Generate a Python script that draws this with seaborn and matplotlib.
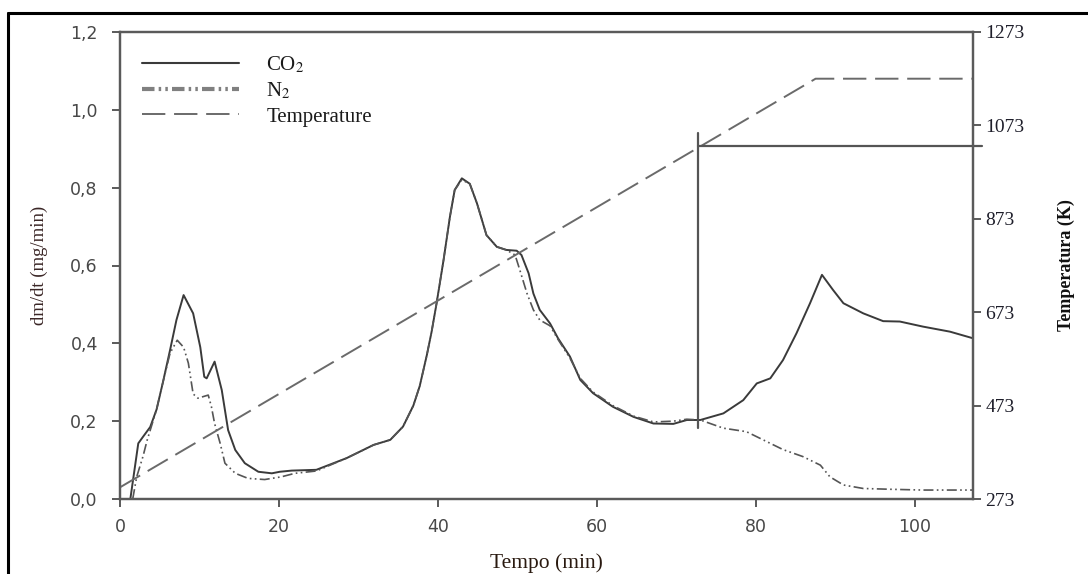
import matplotlib
matplotlib.use("Agg")
import matplotlib.pyplot as plt
from matplotlib.lines import Line2D
import seaborn as sns

# ---------------- data ----------------
co2_time = [1.3, 2.3, 2.9, 3.8, 4.6, 5.4, 6.3, 7.1, 8.0, 9.2, 10.1, 10.6, 10.9, 11.9, 12.8,
            13.6, 14.5, 15.7, 17.4, 19.1, 20.1, 21.6, 24.7, 28.5, 31.9, 34.0, 35.6, 36.9,
            37.7, 38.6, 39.2, 39.8, 40.7, 41.5, 42.1, 43.0, 44.0, 44.9, 46.1, 47.4, 48.6,
            49.9, 50.5, 51.4, 52.0, 52.8, 54.1, 55.1, 56.6, 57.9, 59.5, 62.0, 64.6, 67.1,
            69.6, 71.3, 73.0, 75.9, 78.4, 80.1, 81.8, 83.4, 85.1, 86.8, 88.3, 89.7, 91.0,
            93.5, 96.0, 98.1, 101.0, 104.4, 107.3]
co2_rate = [0.0, 0.143, 0.16, 0.185, 0.23, 0.30, 0.383, 0.46, 0.524, 0.477, 0.39, 0.314,
            0.31, 0.353, 0.28, 0.177, 0.126, 0.092, 0.07, 0.066, 0.07, 0.073, 0.075, 0.105,
            0.139, 0.152, 0.186, 0.24, 0.29, 0.37, 0.43, 0.50, 0.614, 0.725, 0.794, 0.824,
            0.81, 0.76, 0.678, 0.648, 0.64, 0.638, 0.627, 0.58, 0.528, 0.486, 0.451, 0.413,
            0.366, 0.306, 0.272, 0.237, 0.211, 0.194, 0.193, 0.203, 0.203, 0.22, 0.254,
            0.297, 0.31, 0.357, 0.426, 0.503, 0.576, 0.537, 0.503, 0.477, 0.457, 0.456,
            0.443, 0.43, 0.413]

n2_time = [1.6, 2.1, 2.9, 3.4, 4.6, 5.4, 6.3, 7.2, 8.0, 8.6, 9.2, 9.8, 11.1, 11.5, 11.9,
           12.6, 13.2, 14.5, 16.1, 18.2, 20.3, 22.0, 24.7, 28.5, 31.9, 34.0, 35.6, 36.9,
           37.7, 38.6, 39.2, 39.8, 40.7, 41.5, 42.1, 43.0, 44.0, 44.9, 46.1, 47.4, 48.6,
           49.7, 50.3, 51.2, 52.0, 52.8, 54.1, 55.1, 56.6, 57.9, 59.5, 62.0, 64.6, 67.1,
           69.6, 71.3, 73.0, 75.9, 78.8, 80.5, 83.4, 85.9, 88.1, 89.3, 91.0, 93.5, 96.9,
           101.0, 107.3]
n2_rate = [0.0, 0.057, 0.11, 0.15, 0.23, 0.30, 0.375, 0.408, 0.39, 0.349, 0.27, 0.259,
           0.267, 0.237, 0.194, 0.143, 0.092, 0.066, 0.053, 0.05, 0.057, 0.066, 0.072,
           0.105, 0.139, 0.152, 0.186, 0.24, 0.29, 0.37, 0.43, 0.50, 0.614, 0.725, 0.794,
           0.82, 0.81, 0.76, 0.678, 0.648, 0.64, 0.627, 0.588, 0.528, 0.486, 0.46, 0.445,
           0.41, 0.362, 0.31, 0.275, 0.24, 0.213, 0.198, 0.2, 0.205, 0.203, 0.182, 0.173,
           0.156, 0.127, 0.109, 0.087, 0.057, 0.036, 0.027, 0.025, 0.023, 0.023]

temp_time = [0.0, 87.5, 107.3]
temp_kelvin = [298, 1173, 1173]

marker_time = 72.7       # vertical reference line
marker_rate = [0.182, 0.94]
marker_temp = 1029       # horizontal reference line (temperature)

x_ticks = [0, 20, 40, 60, 80, 100]
y_ticks = [0.0, 0.2, 0.4, 0.6, 0.8, 1.0, 1.2]
y_ticklabels = ["0,0", "0,2", "0,4", "0,6", "0,8", "1,0", "1,2"]
t_ticks = [273, 473, 673, 873, 1073, 1273]

legend_labels = ["CO$_2$", "N$_2$", "Temperature"]

# ---------------- style ----------------
sns.set_style("white")
plt.rcParams["font.family"] = ["DejaVu Sans"]
plt.rcParams["mathtext.fontset"] = "stix"
serif = ["Liberation Serif", "DejaVu Serif"]

spine_c = "#5a5a5a"
tick_c = "#484848"

fig = plt.figure(figsize=(10.88, 5.74), dpi=100)
ax = fig.add_axes([120 / 1088, 1 - 499 / 574, (973 - 120) / 1088, (499 - 32) / 574])
ax2 = ax.twinx()

# curves
sns.lineplot(x=co2_time, y=co2_rate, ax=ax, color="#3a3a3a", lw=1.4,
             estimator=None, sort=False)
sns.lineplot(x=n2_time, y=n2_rate, ax=ax, color="#555555", lw=1.2,
             estimator=None, sort=False)
ax.lines[-1].set_dashes((6, 2, 1, 2, 1, 2))
sns.lineplot(x=temp_time, y=temp_kelvin, ax=ax2, color="#6a6a6a", lw=1.4,
             estimator=None, sort=False)
ax2.lines[-1].set_dashes((12, 4.5))

# reference lines
ax.plot([marker_time, marker_time], marker_rate, color="#555555", lw=1.6)
ax2.plot([marker_time, 108.4], [marker_temp, marker_temp], color="#555555", lw=1.6,
         clip_on=False)

# axes limits/ticks
ax.set_xlim(0, 107.3)
ax.set_ylim(0, 1.2)
ax2.set_ylim(273, 1273)
ax.set_xticks(x_ticks)
ax.set_xticklabels([str(v) for v in x_ticks])
ax.set_yticks(y_ticks)
ax.set_yticklabels(y_ticklabels)
ax2.set_yticks(t_ticks)
ax2.set_yticklabels([str(v) for v in t_ticks])

for a in (ax, ax2):
    for s in a.spines.values():
        s.set_color(spine_c)
        s.set_linewidth(1.6)

ax.tick_params(axis="both", direction="out", length=6, width=1.4, color=spine_c,
               labelcolor=tick_c, labelsize=12.5)
ax.tick_params(axis="x", pad=8, bottom=True)
ax.tick_params(axis="y", pad=10, left=True)
ax2.tick_params(axis="y", direction="out", length=6, width=1.4, color=spine_c,
                labelcolor="#1e1e2a", labelsize=14, pad=3, right=True)
for lbl in ax2.get_yticklabels():
    lbl.set_family(serif)

ax.set_xlabel("Tempo (min)", family=serif, fontsize=15.5, color="#2a1a10", labelpad=12)
ax.set_ylabel("dm/dt (mg/min)", family=serif, fontsize=13.5, color="#3a2626", labelpad=16)
ax2.set_ylabel("Temperatura (K)", family=serif, fontsize=13, fontweight="bold",
               color="#111111", labelpad=24)

# legend
handles = [
    Line2D([], [], color="#3a3a3a", lw=1.5),
    Line2D([], [], color="#808080", lw=3.0, dashes=(3, 1, 0.6, 1, 0.6, 1)),
    Line2D([], [], color="#6a6a6a", lw=1.4, dashes=(12, 4.5)),
]
leg = ax.legend(handles, legend_labels, loc="upper left", bbox_to_anchor=(0.026, 0.952),
                frameon=False, handlelength=4.65, handletextpad=1.3, labelspacing=0.27,
                borderaxespad=0, borderpad=0, prop={"family": serif, "size": 15})
for t in leg.get_texts():
    t.set_color("#1a1a1a")

# outer frame (left and top edge of the original figure border)
fig.add_artist(Line2D([7.5 / 1088, 7.5 / 1088], [0, 1 - 13 / 574], color="black", lw=2.2,
                      transform=fig.transFigure))
fig.add_artist(Line2D([7.5 / 1088, 1.0], [1 - 13 / 574, 1 - 13 / 574], color="black", lw=2.2,
                      transform=fig.transFigure))

fig.savefig("out.png", dpi=100)
